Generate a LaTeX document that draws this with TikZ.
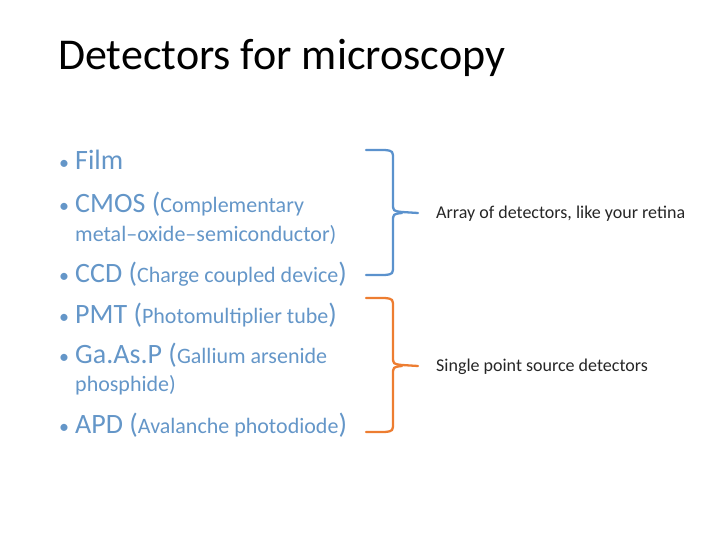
\documentclass[tikz,border=0pt]{standalone}
\usepackage{fontspec}
\setmainfont{Carlito}
\definecolor{txtblue}{RGB}{100,150,200}
\definecolor{brblue}{RGB}{91,146,205}
\definecolor{brorange}{RGB}{237,125,49}
\tikzset{
  item/.style={anchor=base west,inner sep=0pt,text=txtblue,font=\fontsize{28}{30}\selectfont},
  note/.style={anchor=base west,inner sep=0pt,text=txtblue,font=\fontsize{22}{24}\selectfont},
  side/.style={anchor=west,inner sep=0pt,text=black!85,font=\fontsize{18}{20}\selectfont},
  bracket/.style={line width=2.3pt,line cap=round}
}
\newcommand{\sm}[1]{{\fontsize{22}{24}\selectfont #1}}
\newcommand{\bul}{\llap{\fontsize{20}{20}\selectfont\textbullet\hspace{6pt}}}
\begin{document}
\begin{tikzpicture}[x=1pt,y=-1pt]
\useasboundingbox (0,0) rectangle (720,540);
\node[anchor=base west,inner sep=0pt,font=\fontsize{44}{48}\selectfont] (title) at (58,70) {Detectors for microscopy};

\node[item] (film) at (75,170) {\bul Film};
\node[item] (cmos) at (75,212) {\bul CMOS (\sm{Complementary}};
\node[note] (cmos2) at (75,241) {\sm{metal–oxide–semiconductor})};
\node[item] (ccd) at (75,282) {\bul CCD (\sm{Charge coupled device})};
\node[item] (pmt) at (75,323) {\bul PMT (\sm{Photomultiplier tube})};
\node[item] (gaasp) at (75,363) {\bul Ga.As.P (\sm{Gallium arsenide}};
\node[note] (gaasp2) at (75,391) {\sm{phosphide})};
\node[item] (apd) at (75,433) {\bul APD (\sm{Avalanche photodiode})};

% brackets
\draw[bracket,brblue] (366,150) -- (385,150) .. controls (393,151) .. (393,160) -- (393,203)
  .. controls (393,211) .. (402,212) -- (418,213);
\draw[bracket,brblue] (366,275) -- (385,275) .. controls (393,274) .. (393,265) -- (393,222)
  .. controls (393,214) .. (402,213);
\draw[bracket,brorange] (366,298) -- (385,298) .. controls (393,299) .. (393,308) -- (393,356)
  .. controls (393,364) .. (402,365) -- (418,366);
\draw[bracket,brorange] (366,432) -- (385,432) .. controls (393,431) .. (393,422) -- (393,375)
  .. controls (393,367) .. (402,366);

\node[side] (array) at (436,214) {Array of detectors, like your retina};
\node[side] (single) at (436,367) {Single point source detectors};
\end{tikzpicture}
\end{document}
